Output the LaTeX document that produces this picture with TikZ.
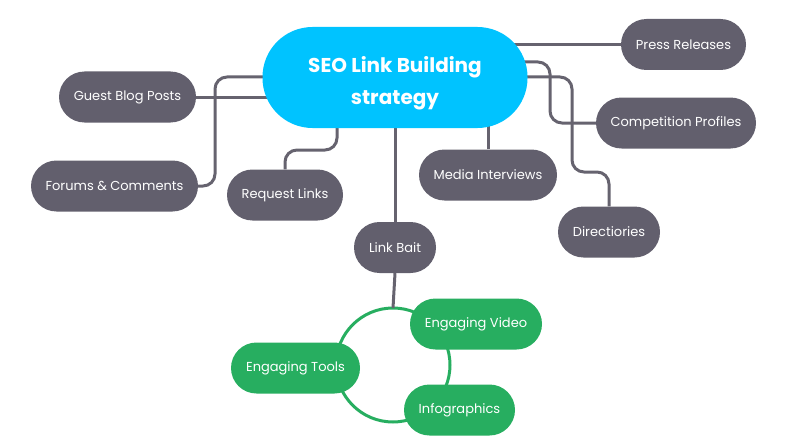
\documentclass[tikz,border=0pt]{standalone}
\usepackage{fontspec}
\setmainfont{Poppins}
\usetikzlibrary{backgrounds}
\definecolor{nodegray}{HTML}{625F6D}
\definecolor{linegray}{HTML}{66636F}
\definecolor{seoblue}{HTML}{00C3FF}
\definecolor{leafgreen}{HTML}{27AE60}
\tikzset{
  pill/.style={fill=nodegray, rounded corners=25.5pt, minimum height=51pt, inner sep=0pt,
    text=white, font=\fontsize{13}{15}\selectfont},
  greenpill/.style={pill, fill=leafgreen},
  conn/.style={draw=linegray, line width=3pt, rounded corners=12pt},
  ring/.style={draw=leafgreen, line width=3pt},
}
\begin{document}
\begin{tikzpicture}[x=1pt,y=-1pt]
\useasboundingbox (0,0) rectangle (790,444);
% central
\node[fill=seoblue, rounded corners=50pt, minimum width=265pt, minimum height=101pt, inner sep=0pt] (seo) at (395,77.5) {};
\node[text=white, align=center, inner sep=0pt, font=\fontsize{20}{32}\selectfont\bfseries] (seotext) at ([yshift=-5.5pt]seo.center)
  {SEO Link Building\\strategy};
% leaves
\node[pill, minimum width=137pt] (gbp) at (127.5,97) {Guest Blog Posts};
\node[pill, minimum width=167pt] (fc) at (114.5,186) {Forums \& Comments};
\node[pill, minimum width=116pt] (rl) at (285,195) {Request Links};
\node[pill, minimum width=82pt] (lb) at (395,247.5) {Link Bait};
\node[pill, minimum width=138pt] (mi) at (488,175) {Media Interviews};
\node[pill, minimum width=125pt] (pr) at (683.5,44.5) {Press Releases};
\node[pill, minimum width=160pt] (cp) at (676,123) {Competition Profiles};
\node[pill, minimum width=102pt] (dir) at (609,232) {Directiories};
% ring and green leaves
\coordinate (ringc) at (393,365);
\coordinate (ringtop) at (393,308);
\begin{scope}[on background layer]
\draw[ring] (ringc) circle[radius=57pt];
\end{scope}
\node[greenpill, minimum width=132pt] (ev) at (476,324) {Engaging Video};
\node[greenpill, minimum width=129pt] (et) at (295.5,368) {Engaging Tools};
\node[greenpill, minimum width=111pt] (ig) at (459.5,410) {Infographics};
% waypoints
\coordinate (fca) at (215,77);
\coordinate (rla) at (337,150);
\coordinate (cpa) at (550,62);
\coordinate (dira) at (572,172);
\coordinate (dirb) at (500,77);
\begin{scope}[on background layer]
\draw[conn] (gbp.east) -- (gbp.east -| seo.center);
\draw[conn] (fc.east) -| (fca) -- (fca -| seo.center);
\draw[conn] (rl.north) |- (rla) -- (rla |- seo.center);
\draw[conn] (lb.north) -- (lb.north |- seo.center);
\draw[conn] (lb.south) -- (ringtop);
\draw[conn] (mi.north) -- (mi.north |- seo.center);
\draw[conn] (pr.west) -- (pr.west -| seo.center);
\draw[conn] (cp.west) -| (cpa) -- (cpa -| seo.center);
\draw[conn] (dir.north) |- (dira) |- (dirb) -- (dirb -| seo.center);
\end{scope}
\end{tikzpicture}
\end{document}
